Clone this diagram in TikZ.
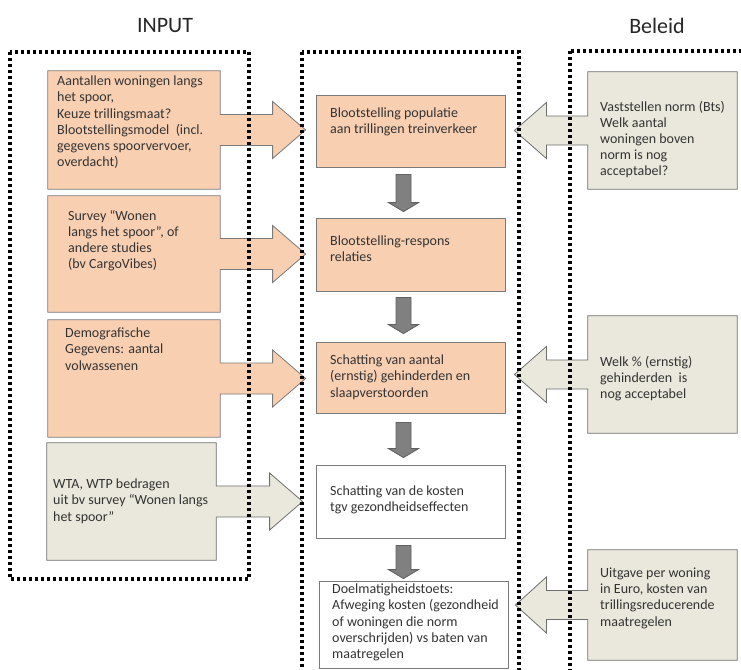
\documentclass[tikz,border=0pt]{standalone}
\usepackage{fontspec}
\setmainfont{Carlito}
\usetikzlibrary{calc}
\definecolor{orangefill}{HTML}{F9CFB2}
\definecolor{greyfill}{HTML}{EAE8DC}
\definecolor{edgegrey}{HTML}{7A7A7A}
\definecolor{arrowgrey}{HTML}{808080}
\definecolor{textgrey}{HTML}{333333}
\tikzset{
  panel/.style={inner sep=0pt},
  midbox/.style={draw=edgegrey, line width=0.8pt, inner sep=0pt, minimum width=189pt},
  orangecall/.style={draw=edgegrey, fill=orangefill, line width=0.8pt},
  greycall/.style={draw=edgegrey!90!black, fill=greyfill, line width=0.8pt},
  downarrow/.style={draw=arrowgrey!75!black, fill=arrowgrey, line width=0.8pt},
  dotframe/.style={line width=3.1pt, dash pattern=on 2.9pt off 3.1pt},
  txt/.style={anchor=north west, align=left, inner sep=0pt, text=textgrey,
    font=\fontsize{14}{16.2}\selectfont, execute at begin node=\strut},
  headline/.style={inner sep=0pt, text=black!85, font=\fontsize{22}{26}\selectfont}
}
\begin{document}
\begin{tikzpicture}[x=1pt,y=-1pt]
  \path[use as bounding box, clip] (0,0) rectangle (741,669);
  \fill[white] (0,0) rectangle (741,669);

  \node[headline] (input) at (165,26) {INPUT};
  \node[headline] (beleid) at (657,26) {Beleid};

  % box positions
  \node[panel, minimum width=172pt, minimum height=118pt] (l1) at (134,130) {};
  \node[panel, minimum width=172pt, minimum height=116pt] (l2) at (134,254) {};
  \node[panel, minimum width=172pt, minimum height=117pt] (l3) at (134,378.5) {};
  \node[panel, minimum width=169pt, minimum height=117pt] (l4) at (131.5,501.5) {};
  \node[midbox, fill=orangefill, minimum height=72pt] (m1) at (410.5,131) {};
  \node[midbox, fill=orangefill, minimum height=73pt] (m2) at (410.5,254.5) {};
  \node[midbox, fill=orangefill, minimum height=71pt] (m3) at (410.5,377.5) {};
  \node[midbox, fill=white, minimum height=73pt] (m4) at (410.5,501.5) {};
  \node[midbox, fill=white, minimum height=87pt] (m5) at (413.5,624.5) {};
  \node[panel, minimum width=149pt, minimum height=117pt] (r1) at (662.5,130.5) {};
  \node[panel, minimum width=149pt, minimum height=117pt] (r2) at (662.5,374.5) {};
  \node[panel, minimum width=149pt, minimum height=110pt] (r3) at (662.5,605) {};

  % input callouts
  \filldraw[orangecall] (l1.north west) -- (l1.north east) -- ($(l1.east)+(0,-15.5)$)
    -- ($(l1.east -| m1.west)+(-43,-15.5)$) -- ($(l1.east -| m1.west)+(-43,-28.5)$)
    -- ($(l1.east -| m1.west)+(-10,0)$) -- ($(l1.east -| m1.west)+(-43,28.5)$)
    -- ($(l1.east -| m1.west)+(-43,15.5)$) -- ($(l1.east)+(0,15.5)$)
    -- (l1.south east) -- (l1.south west) -- cycle;
  \filldraw[orangecall] (l2.north west) -- (l2.north east) -- ($(l2.east)+(0,-15.5)$)
    -- ($(l2.east -| m2.west)+(-43,-15.5)$) -- ($(l2.east -| m2.west)+(-43,-28.5)$)
    -- ($(l2.east -| m2.west)+(-10,0)$) -- ($(l2.east -| m2.west)+(-43,28.5)$)
    -- ($(l2.east -| m2.west)+(-43,15.5)$) -- ($(l2.east)+(0,15.5)$)
    -- (l2.south east) -- (l2.south west) -- cycle;
  \filldraw[orangecall] (l3.north west) -- (l3.north east) -- ($(l3.east)+(0,-15.5)$)
    -- ($(l3.east -| m3.west)+(-43,-15.5)$) -- ($(l3.east -| m3.west)+(-43,-28.5)$)
    -- ($(l3.east -| m3.west)+(-10,0)$) -- ($(l3.east -| m3.west)+(-43,28.5)$)
    -- ($(l3.east -| m3.west)+(-43,15.5)$) -- ($(l3.east)+(0,15.5)$)
    -- (l3.south east) -- (l3.south west) -- cycle;
  \filldraw[greycall] (l4.north west) -- (l4.north east) -- ($(l4.east)+(0,-15.5)$)
    -- ($(l4.east -| m4.west)+(-46,-15.5)$) -- ($(l4.east -| m4.west)+(-46,-28.5)$)
    -- ($(l4.east -| m4.west)+(-13,0)$) -- ($(l4.east -| m4.west)+(-46,28.5)$)
    -- ($(l4.east -| m4.west)+(-46,15.5)$) -- ($(l4.east)+(0,15.5)$)
    -- (l4.south east) -- (l4.south west) -- cycle;

  % beleid callouts
  \filldraw[greycall] (r1.north west) -- (r1.north east) -- (r1.south east) -- (r1.south west)
    -- ($(r1.west)+(0,14.5)$) -- ($(r1.west -| m1.east)+(41,14.5)$) -- ($(r1.west -| m1.east)+(41,28)$)
    -- ($(r1.west -| m1.east)+(9,0)$) -- ($(r1.west -| m1.east)+(41,-28)$)
    -- ($(r1.west -| m1.east)+(41,-14.5)$) -- ($(r1.west)+(0,-14.5)$) -- cycle;
  \filldraw[greycall] (r2.north west) -- (r2.north east) -- (r2.south east) -- (r2.south west)
    -- ($(r2.west)+(0,14.5)$) -- ($(r2.west -| m3.east)+(41,14.5)$) -- ($(r2.west -| m3.east)+(41,28)$)
    -- ($(r2.west -| m3.east)+(9,0)$) -- ($(r2.west -| m3.east)+(41,-28)$)
    -- ($(r2.west -| m3.east)+(41,-14.5)$) -- ($(r2.west)+(0,-14.5)$) -- cycle;
  \filldraw[greycall] (r3.north west) -- (r3.north east) -- (r3.south east) -- (r3.south west)
    -- ($(r3.west)+(0,14.5)$) -- ($(r3.west -| m5.east)+(38,14.5)$) -- ($(r3.west -| m5.east)+(38,28)$)
    -- ($(r3.west -| m5.east)+(7,0)$) -- ($(r3.west -| m5.east)+(38,-28)$)
    -- ($(r3.west -| m5.east)+(38,-14.5)$) -- ($(r3.west)+(0,-14.5)$) -- cycle;

  % steps
  \filldraw[downarrow] ($(m1.south)+(-14.5,7)$) -- ($(m1.south)+(0.5,7)$) -- ($(m1.south |- m2.north)+(0.5,-15)$)
    -- ($(m1.south |- m2.north)+(8,-15)$) -- ($(m1.south |- m2.north)+(-7,-6)$)
    -- ($(m1.south |- m2.north)+(-22,-15)$) -- ($(m1.south |- m2.north)+(-14.5,-15)$) -- cycle;
  \filldraw[downarrow] ($(m2.south)+(-14.5,6)$) -- ($(m2.south)+(0.5,6)$) -- ($(m2.south |- m3.north)+(0.5,-17)$)
    -- ($(m2.south |- m3.north)+(8,-17)$) -- ($(m2.south |- m3.north)+(-7,-8)$)
    -- ($(m2.south |- m3.north)+(-22,-17)$) -- ($(m2.south |- m3.north)+(-14.5,-17)$) -- cycle;
  \filldraw[downarrow] ($(m3.south)+(-14.5,9)$) -- ($(m3.south)+(0.5,9)$) -- ($(m3.south |- m4.north)+(0.5,-16)$)
    -- ($(m3.south |- m4.north)+(8,-16)$) -- ($(m3.south |- m4.north)+(-7,-7)$)
    -- ($(m3.south |- m4.north)+(-22,-16)$) -- ($(m3.south |- m4.north)+(-14.5,-16)$) -- cycle;
  \filldraw[downarrow] ($(m4.south)+(-14.5,7)$) -- ($(m4.south)+(0.5,7)$) -- ($(m4.south |- m5.north)+(0.5,-11)$)
    -- ($(m4.south |- m5.north)+(8,-11)$) -- ($(m4.south |- m5.north)+(-7,-2)$)
    -- ($(m4.south |- m5.north)+(-22,-11)$) -- ($(m4.south |- m5.north)+(-14.5,-11)$) -- cycle;

  % dotted frames
  \draw[dotframe] (10,52) rectangle (249,579);
  \draw[dotframe] (302,52) rectangle (519,700);
  \draw[dotframe] (570,51) rectangle (760,700);

  % texts
  \node[txt] (l1t) at (57,75.7) {Aantallen woningen langs\\het spoor,\\Keuze trillingsmaat?\\Blootstellingsmodel~ (incl.\\gegevens spoorvervoer,\\overdacht)};
  \node[txt] (l2t) at (68,209.7) {Survey “Wonen\\langs het spoor”, of\\andere studies\\(bv CargoVibes)};
  \node[txt] (l3t) at (65,327.7) {Demografische\\Gegevens: aantal\\volwassenen};
  \node[txt] (l4t) at (53,478.7) {WTA, WTP bedragen\\uit bv survey “Wonen langs\\het spoor”};
  \node[txt] (m1t) at (330,107.7) {Blootstelling populatie\\aan trillingen treinverkeer};
  \node[txt] (m2t) at (330,235.7) {Blootstelling-respons\\relaties};
  \node[txt] (m3t) at (330,354.7) {Schatting van aantal\\(ernstig) gehinderden en\\slaapverstoorden};
  \node[txt] (m4t) at (330,485.7) {Schatting van de kosten\\tgv gezondheidseffecten};
  \node[txt] (m5t) at (332,583.7) {Doelmatigheidstoets:\\Afweging kosten (gezondheid\\of woningen die norm\\overschrijden) vs baten van\\maatregelen};
  \node[txt] (r1t) at (600,100.7) {Vaststellen norm (Bts)\\Welk aantal\\woningen boven\\norm is nog\\acceptabel?};
  \node[txt] (r2t) at (600,355.7) {Welk \% (ernstig)\\gehinderden~ is\\nog acceptabel};
  \node[txt] (r3t) at (600,567.7) {Uitgave per woning\\in Euro, kosten van\\trillingsreducerende\\maatregelen};
\end{tikzpicture}
\end{document}
